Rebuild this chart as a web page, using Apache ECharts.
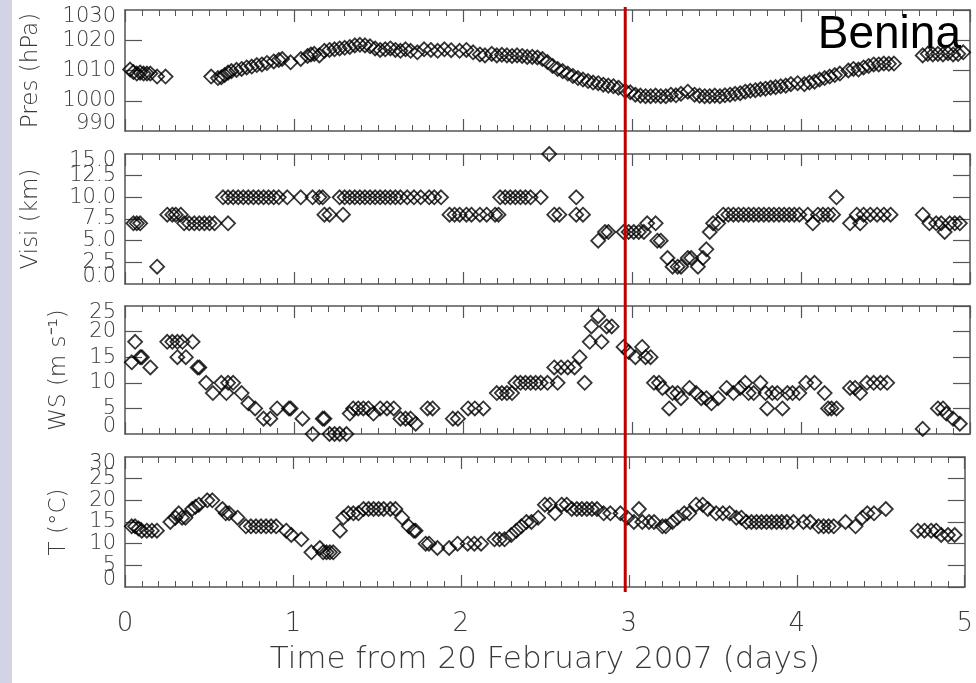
<!DOCTYPE html>
<html>
<head>
    <meta charset="utf-8">
    <title>Benina</title>
    <script src="https://cdn.jsdelivr.net/npm/echarts@6/dist/echarts.min.js"></script>
    <style type="text/css">
        *{margin: 0;padding: 0;}
        body{background: #fff;overflow: hidden;}
    </style>
</head>
<body>
<div id="main" style="width: 976px;height: 683px;"></div>
<script type="text/javascript">
    // station + event
    var station = 'Benina';
    var eventDay = [2.96];
    var xTicks = [0, 1, 2, 3, 4, 5];
    var xTitle = 'Time from 20 February 2007 (days)';

    // [day, value]
    var pres = [
        [0.03,1010.3],[0.05,1009.5],[0.07,1009],[0.09,1009.3],[0.11,1009],[0.13,1009],[0.15,1009],[0.19,1008],[0.24,1008],
        [0.51,1008],[0.55,1007.5],[0.57,1007.8],[0.59,1008.5],[0.61,1009.3],[0.63,1009.8],[0.66,1010.2],[0.69,1010.5],
        [0.72,1011],[0.75,1011.3],[0.78,1011.8],[0.81,1012],[0.84,1012.5],[0.88,1013],[0.91,1013.5],[0.93,1013.8],
        [0.98,1012.7],[1.04,1013.8],[1.08,1014.8],[1.10,1015.3],[1.12,1015.5],[1.15,1015],[1.18,1016.5],[1.21,1016.8],
        [1.24,1017],[1.27,1017.3],[1.30,1017.5],[1.33,1017.8],[1.36,1018.3],[1.39,1018.5],[1.42,1018.3],[1.45,1018],
        [1.48,1017.3],[1.51,1016.8],[1.54,1017],[1.57,1017.3],[1.60,1016.8],[1.63,1016.5],[1.66,1017],[1.69,1016.5],
        [1.73,1016],[1.77,1017],[1.81,1016.8],[1.85,1016.5],[1.89,1017],[1.93,1016.7],[1.98,1016.5],[2.02,1016.8],
        [2.06,1016],[2.10,1015.3],[2.13,1015],[2.17,1015.5],[2.20,1015],[2.23,1015.2],[2.26,1015],[2.29,1014.8],
        [2.32,1015],[2.35,1014.8],[2.38,1014.5],[2.41,1014.5],[2.44,1014.3],[2.47,1013.8],[2.50,1012.8],[2.53,1011.5],
        [2.56,1010.5],[2.59,1009.8],[2.62,1009],[2.65,1008.2],[2.68,1007.5],[2.71,1007],[2.74,1006.5],[2.77,1006],
        [2.80,1005.8],[2.83,1005.3],[2.86,1005],[2.89,1004.8],[2.92,1004.3],[2.96,1003.3],[2.99,1002.8],[3.02,1002],
        [3.05,1001.7],[3.08,1001.5],[3.11,1001.5],[3.14,1001.7],[3.17,1001.5],[3.20,1001.5],[3.23,1002],[3.26,1001.8],
        [3.29,1002.3],[3.33,1003],[3.37,1002],[3.40,1001.7],[3.43,1001.5],[3.46,1001.5],[3.49,1001.7],[3.52,1001.5],
        [3.55,1001.8],[3.58,1002],[3.61,1002.3],[3.64,1002.5],[3.67,1003],[3.70,1003.3],[3.73,1003.5],[3.76,1003.8],
        [3.79,1004],[3.82,1004.3],[3.85,1004.5],[3.88,1004.8],[3.91,1005],[3.94,1005.5],[3.98,1005.8],[4.02,1005.5],
        [4.05,1006],[4.08,1006.3],[4.11,1007],[4.14,1007.5],[4.17,1008],[4.20,1008.5],[4.23,1009],[4.28,1010],
        [4.31,1010.5],[4.34,1010.3],[4.37,1011],[4.40,1011.5],[4.43,1012],[4.46,1012],[4.49,1012.3],[4.52,1012.2],
        [4.55,1012.3],[4.72,1015],[4.75,1015.5],[4.78,1015.3],[4.81,1015.5],[4.84,1015.3],[4.87,1015.7],[4.90,1015.3],
        [4.93,1015.5],[4.96,1016]
    ];
    var visi = [
        [0.05,7],[0.07,7],[0.09,7],[0.19,2],[0.25,8],[0.28,8],[0.30,8],[0.33,8],[0.35,7],[0.38,7],[0.41,7],[0.44,7],
        [0.47,7],[0.50,7],[0.53,7],[0.61,7],
        [0.58,10],[0.61,10],[0.64,10],[0.67,10],[0.70,10],[0.73,10],[0.76,10],[0.79,10],[0.82,10],[0.85,10],[0.88,10],
        [0.91,10],[0.96,10],[1.04,10],[1.11,10],[1.15,10],[1.18,8],[1.21,8],[1.29,8],[1.17,10],
        [1.27,10],[1.30,10],[1.33,10],[1.36,10],[1.39,10],[1.42,10],[1.45,10],[1.48,10],[1.51,10],[1.54,10],[1.57,10],
        [1.60,10],[1.63,10],[1.67,10],[1.71,10],[1.75,10],[1.80,10],[1.83,10],[1.87,10],
        [1.92,8],[1.95,8],[1.98,8],[2.02,8],[2.05,8],[2.10,8],[2.14,8],[2.19,8],[2.21,8],
        [2.22,10],[2.25,10],[2.28,10],[2.31,10],[2.34,10],[2.37,10],[2.40,10],[2.46,10],[2.51,15],
        [2.54,8],[2.57,8],[2.67,10],[2.67,8],[2.71,8],[2.80,5],[2.84,6],[2.86,6],
        [2.95,6],[2.98,6],[3.01,6],[3.04,6],[3.07,6],[3.09,7],[3.14,7],[3.15,5],[3.17,5],[3.21,3],[3.24,2],[3.27,2],
        [3.29,2],[3.33,3],[3.35,3],[3.39,2],[3.42,3],[3.44,4],[3.46,6],[3.48,7],[3.51,7],
        [3.54,8],[3.57,8],[3.60,8],[3.63,8],[3.66,8],[3.69,8],[3.72,8],[3.75,8],[3.78,8],[3.81,8],[3.84,8],[3.87,8],
        [3.90,8],[3.93,8],[3.96,8],[3.99,8],[4.04,8],[4.07,7],[4.10,8],[4.13,8],[4.16,8],[4.19,8],[4.21,10],
        [4.29,7],[4.33,8],[4.35,7],[4.37,8],[4.41,8],[4.45,8],[4.49,8],[4.53,8],
        [4.72,8],[4.76,7],[4.80,7],[4.83,7],[4.85,6],[4.88,7],[4.91,7],[4.94,7]
    ];
    var ws = [
        [0.04,14],[0.06,18],[0.09,15],[0.10,15],[0.15,13],[0.25,18],[0.28,18],[0.31,18],[0.31,15],[0.34,18],[0.36,15],
        [0.40,18],[0.43,13],[0.44,13],[0.48,10],[0.52,8],[0.57,10],[0.60,8],[0.61,10],[0.64,10],[0.69,8],[0.73,6],
        [0.77,5],[0.82,3],[0.86,3],[0.90,5],[0.97,5],[0.98,5],[1.05,3],[1.11,0],[1.17,3],[1.18,3],[1.21,0],[1.24,0],
        [1.27,0],[1.31,0],[1.33,4],[1.35,5],[1.38,5],[1.41,5],[1.44,5],[1.47,4],[1.51,5],[1.55,5],[1.59,5],[1.63,3],
        [1.66,3],[1.69,3],[1.72,2],[1.79,5],[1.82,5],[1.94,3],[1.97,3],[2.03,5],[2.07,5],[2.12,5],
        [2.20,8],[2.23,8],[2.26,8],[2.29,8],[2.31,10],[2.34,10],[2.37,10],[2.40,10],[2.43,10],[2.46,10],[2.50,10],
        [2.56,10],[2.54,13],[2.58,13],[2.62,13],[2.66,13],[2.69,15],[2.72,10],[2.75,18],[2.76,21],[2.80,23],[2.82,18],
        [2.85,21],[2.88,21],[2.95,17],[2.98,16],[3.02,15],[3.06,17],[3.08,15],[3.11,15],[3.13,10],[3.16,10],[3.18,9],
        [3.22,5],[3.24,8],[3.27,8],[3.29,7],[3.34,9],[3.38,8],[3.41,7],[3.44,7],[3.47,6],[3.51,7],[3.56,9],[3.60,8],
        [3.64,9],[3.67,10],[3.69,8],[3.72,8],[3.76,10],[3.79,8],[3.80,5],[3.83,8],[3.86,8],[3.89,5],[3.92,8],[3.95,8],
        [3.99,8],[4.03,10],[4.08,10],[4.14,8],[4.16,5],[4.18,5],[4.21,5],[4.29,9],[4.32,9],[4.35,8],[4.39,10],[4.43,10],
        [4.47,10],[4.51,10],[4.72,1],[4.81,5],[4.84,5],[4.86,4],[4.90,3],[4.94,2]
    ];
    var temp = [
        [0.04,14],[0.06,14],[0.08,13.5],[0.10,13],[0.13,13],[0.16,13],[0.19,13],[0.27,15],[0.30,16],[0.32,17],[0.34,16],
        [0.36,16],[0.40,18],[0.42,18.5],[0.44,19],[0.49,20],[0.52,20],[0.58,18],[0.60,17],[0.62,17],[0.67,16],[0.72,14],
        [0.75,14],[0.78,14],[0.81,14],[0.84,14],[0.87,14],[0.90,14],[0.96,13],[0.99,12],[1.05,11],[1.11,8],[1.16,9],
        [1.18,8],[1.20,8],[1.22,8],[1.24,8],[1.28,13],[1.30,16],[1.33,17],[1.36,17],[1.39,17],[1.42,18],[1.45,18],
        [1.48,18],[1.51,18],[1.54,18],[1.58,18],[1.61,18],[1.65,16],[1.69,14],[1.72,13],[1.73,13],[1.79,10],[1.81,10],
        [1.86,9],[1.93,9],[1.98,10],[2.04,10],[2.08,10],[2.12,10],[2.20,11],[2.23,11],[2.26,11],[2.30,12],[2.33,13],
        [2.36,14],[2.39,15],[2.42,15],[2.46,16],[2.50,19],[2.53,19],[2.56,17],[2.60,19],[2.63,19],[2.66,18],[2.69,18],
        [2.72,18],[2.75,18],[2.78,18],[2.81,18],[2.85,17],[2.89,17],[2.95,17],[2.99,16],[3.03,15],[3.06,18],[3.08,15],
        [3.12,15],[3.15,15],[3.20,14],[3.22,14],[3.26,15],[3.29,16],[3.33,17],[3.36,17],[3.40,19],[3.44,19],[3.47,18],
        [3.52,17],[3.56,17],[3.60,17],[3.64,16],[3.67,16],[3.70,15],[3.73,15],[3.76,15],[3.79,15],[3.82,15],[3.85,15],
        [3.88,15],[3.91,15],[3.94,15],[3.98,15],[4.04,15],[4.08,15],[4.13,14],[4.16,14],[4.19,14],[4.22,14],[4.29,15],
        [4.35,14],[4.39,16],[4.42,17],[4.46,17],[4.53,18],[4.72,13],[4.76,13],[4.80,13],[4.83,13],[4.86,12],[4.90,12],
        [4.94,12]
    ];

    var axisColor = '#555';
    var textColor = '#3a3a3a';
    var font = 'DejaVu Sans';

    var panels = [
        {name: 'Pres (hPa)', data: pres, min: 990, max: 1030, step: 10, top: 10, height: 121, gap: 82, dec: 0},
        {name: 'Visi (km)', data: visi, min: 0, max: 15, step: 2.5, top: 154, height: 130, gap: 82, dec: 1},
        {name: 'WS (m s\u207B\u00B9)', data: ws, min: 0, max: 25, step: 5, top: 306, height: 128, gap: 54, dec: 0},
        {name: 'T (\u00B0C)', data: temp, min: 0, max: 30, step: 5, top: 457, height: 130, gap: 54, dec: 0}
    ];

    var grid = [], xAxis = [], yAxis = [], series = [];
    panels.forEach(function (p, i) {
        var last = (i === panels.length - 1);
        grid.push({left: 125, right: 6, top: p.top, height: p.height});
        ['bottom', 'top'].forEach(function (pos) {
            xAxis.push({
                gridIndex: i, type: 'value', position: pos, min: xTicks[0], max: xTicks[xTicks.length - 1], interval: 1,
                axisLine: {show: true, onZero: false, lineStyle: {color: axisColor, width: 1.5}},
                axisTick: {show: true, inside: true, length: 12, lineStyle: {color: axisColor, width: 1.2}},
                minorTick: {show: true, splitNumber: 10, length: 6, lineStyle: {color: axisColor, width: 1}},
                splitLine: {show: false},
                axisLabel: {show: last && pos === 'bottom', margin: 24, fontSize: 26, color: textColor, fontFamily: font, fontWeight: 200},
                name: (last && pos === 'bottom') ? xTitle : '',
                nameLocation: 'middle', nameGap: 57,
                nameTextStyle: {fontSize: 31, color: textColor, fontFamily: font, fontWeight: 200}
            });
        });
        var fmt = function (v) { return v.toFixed(p.dec); };
        // left: box side, ticks and inner labels
        yAxis.push({
            gridIndex: i, type: 'value', position: 'left', min: p.min, max: p.max, interval: p.step,
            axisLine: {show: true, lineStyle: {color: axisColor, width: 1.5}},
            axisTick: {show: true, inside: true, length: 17, lineStyle: {color: axisColor, width: 1.2}},
            splitLine: {show: false},
            axisLabel: {
                margin: 9, fontSize: 21, lineHeight: 12, color: textColor, fontFamily: font, fontWeight: 200,
                showMinLabel: false, showMaxLabel: false, formatter: fmt
            },
            name: p.name, nameLocation: 'middle', nameRotate: 90, nameGap: p.gap,
            nameTextStyle: {fontSize: 23, color: textColor, fontFamily: font, fontWeight: 200}
        });
        // left: only the end labels, pushed inside the panel like the original
        yAxis.push({
            gridIndex: i, type: 'value', position: 'left', min: p.min, max: p.max, interval: p.step,
            axisLine: {show: false}, axisTick: {show: false}, splitLine: {show: false},
            axisLabel: {
                margin: 9, fontSize: 21, lineHeight: 14, color: textColor, fontFamily: font, fontWeight: 200,
                showMinLabel: true, showMaxLabel: true,
                verticalAlignMinLabel: 'bottom', verticalAlignMaxLabel: 'top',
                formatter: function (v) { return (v === p.min || v === p.max) ? fmt(v) : ''; }
            }
        });
        // right side of the box
        yAxis.push({
            gridIndex: i, type: 'value', position: 'right', min: p.min, max: p.max, interval: p.step,
            axisLine: {show: true, lineStyle: {color: axisColor, width: 1.5}},
            axisTick: {show: true, inside: true, length: 17, lineStyle: {color: axisColor, width: 1.2}},
            splitLine: {show: false}, axisLabel: {show: false}
        });
        series.push({
            type: 'scatter', xAxisIndex: 2 * i, yAxisIndex: 3 * i, data: p.data,
            symbol: 'diamond', symbolSize: 14,
            itemStyle: {color: 'rgba(0,0,0,0)', borderColor: '#000', borderWidth: 1.8},
            emphasis: {disabled: true}, silent: true
        });
    });

    // red event line across all panels
    grid.push({left: 125, right: 6, top: 7, height: 585});
    xAxis.push({gridIndex: 4, type: 'value', min: 0, max: 5, show: false});
    yAxis.push({gridIndex: 4, type: 'value', min: 0, max: 1, show: false});
    series.push({
        type: 'line', xAxisIndex: xAxis.length - 1, yAxisIndex: yAxis.length - 1, z: 10, symbol: 'none', silent: true,
        data: [[eventDay[0], 0], [eventDay[0], 1]],
        lineStyle: {color: '#c00000', width: 3}
    });

    var myChart = echarts.init(document.getElementById('main'));
    var option = {
        backgroundColor: '#fff',
        animation: false,
        title: {
            text: station, right: 10, top: 7,
            textStyle: {fontSize: 46, fontFamily: 'Liberation Sans', fontWeight: 'normal', color: '#000'}
        },
        graphic: [{
            type: 'rect', left: 0, top: 0, shape: {width: 12, height: 683}, style: {fill: '#d3d3e6'}
        }],
        grid: grid,
        xAxis: xAxis,
        yAxis: yAxis,
        series: series
    };
    myChart.setOption(option);
</script>
</body>
</html>
